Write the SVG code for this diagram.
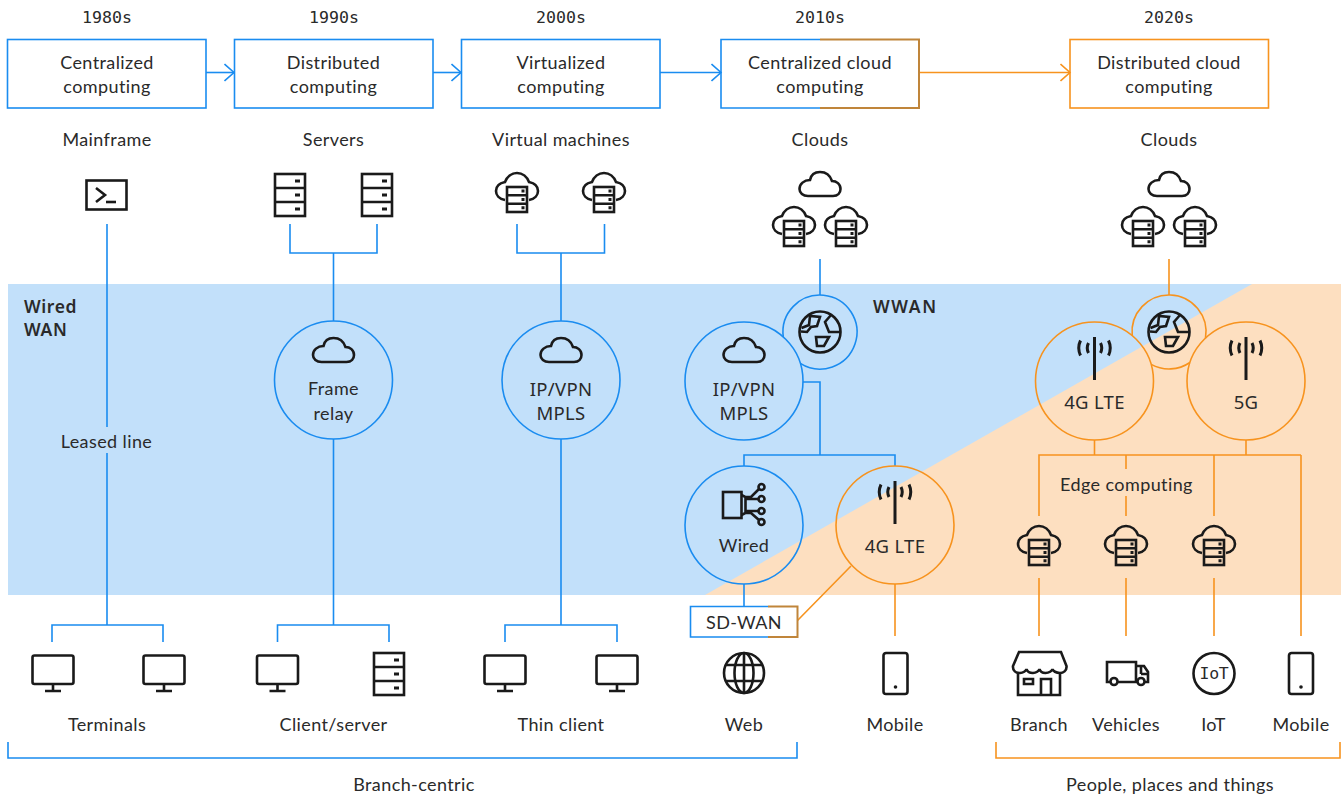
<svg xmlns="http://www.w3.org/2000/svg" width="1344" height="796" viewBox="0 0 1344 796">
<style>
text{font-family:"Lato","Noto Sans",sans-serif;font-size:18px;letter-spacing:.4px;fill:#2a2a2a;text-anchor:middle;dominant-baseline:central}
.y{font-family:"DejaVu Sans Mono",monospace;font-size:16.6px;letter-spacing:0}
.n{font-family:"Noto Sans",sans-serif;font-size:18.5px;letter-spacing:.3px}
.b{font-family:"Noto Sans",sans-serif;font-size:17.5px;font-weight:600;text-anchor:start;letter-spacing:.6px}
.w{letter-spacing:1.6px}
.bl,.or,.br{fill:none;stroke-width:1.6}
.bl{stroke:#1a8cf0}.or{stroke:#f7931e}.br{stroke:#c0853a;stroke-width:2}
.i{fill:none;stroke:#1a1a1a;stroke-width:2.6;stroke-linejoin:miter}
.a{fill:none;stroke:#1a1a1a;stroke-width:3}
.k{fill:#1a1a1a;stroke:none}
</style>
<defs>
<marker id="ab" markerWidth="12" markerHeight="20" refX="10.5" refY="10" orient="auto" markerUnits="userSpaceOnUse"><path d="M1 1.500L10.5 10L1 18.500" fill="none" stroke="#1a8cf0" stroke-width="1.6"/></marker>
<marker id="ao" markerWidth="12" markerHeight="20" refX="10.5" refY="10" orient="auto" markerUnits="userSpaceOnUse"><path d="M1 1.500L10.5 10L1 18.500" fill="none" stroke="#f7931e" stroke-width="1.6"/></marker>
<g id="server"><rect class="i" x="-15" y="0" width="30" height="42"/><path class="i" d="M-15 14H15M-15 28H15"/><path class="k" d="M5 5.500H10V8.500H5ZM5 19.500H10V22.500H5ZM5 33.500H10V36.500H5Z"/></g>
<path id="cloud" class="i" d="M-12 24H13C18 24 20.500 20.500 20.500 17C20.500 12 16.500 9 12 9C10 3 5.500 0 0 0C-5.500 0-9 3-10 8C-16 8-20.500 12-20.500 17C-20.500 21-17 24-12 24Z"/>
<g id="cs"><path class="i" d="M-12 27C-18 26-21 22-21 18C-21 13-17 10-12 9C-10 4-5.500 0 0 0C5.500 0 10 4 12 9C17 10 21 13 21 18C21 22 18 26 12 27"/><rect class="i" x="-10" y="14" width="20" height="25"/><path class="i" d="M-10 22.300H10M-10 30.700H10"/><path class="k" d="M4.500 16.500H7.500V19.500H4.500ZM4.500 25H7.500V28H4.500ZM4.500 33.300H7.500V36.300H4.500Z"/></g>
<g id="mon"><rect class="i" x="-20.500" y="0" width="41" height="28.500" rx="2"/><path class="i" d="M0 28.500V35.500M-8 35.500H8"/></g>
<g id="ant"><rect class="k" x="-1.500" y="0" width="3" height="43"/><path class="a" d="M-6 6Q-8.500 11-6 16M6 6Q8.500 11 6 16M-14 3.500Q-17.500 11-14 18.500M14 3.500Q17.500 11 14 18.500"/></g>
<g id="earth"><circle class="i" r="20.500"/><path class="i" d="M-18.500-4L-11-7L-10-16L0-15L-3-6L-9-5L-13 0L-19-.5M11-17L5-10L9 0H20.500M-4 5H9L4 14H-3Z"/></g>
<g id="phone"><rect class="i" x="-12" y="0" width="24" height="41" rx="2.500"/><circle class="k" cx="0" cy="34" r="1.800"/></g>
</defs>

<g id="bands">
<rect x="8" y="284" width="1333" height="311" fill="#c2e0fa"/>
<polygon points="1252,284 1341,284 1341,595 705,595" fill="#fddfc0"/>
</g>

<g id="connectors">
<path class="bl" marker-end="url(#ab)" d="M206 72.500H234"/>
<path class="bl" marker-end="url(#ab)" d="M433 72.500H461"/>
<path class="bl" marker-end="url(#ab)" d="M660 72.500H721"/>
<path class="or" marker-end="url(#ao)" d="M919 72.500H1070"/>
<path class="bl" d="M107 224V427M107 453V625M52 642V625H163V642"/>
<path class="bl" d="M290 224V253H377V224M333.500 253V321M333.500 439V625M277.500 642V625H389V642"/>
<path class="bl" d="M517 224V253H604.500V224M561 253V321M561 439V625M505 642V625H617V642"/>
<path class="bl" d="M820 259V295M803 382H820V455M744 466V455H895V466M744 584V606"/>
<path class="or" d="M797 621L851 566M895 584V636"/>
<path class="or" d="M1169 259V295M1094.500 440V455M1246 440V455M1039 516V455H1301M1301 455V636M1126 455V469M1126 496V516M1214 455V516M1039 578V636M1126 578V636M1214 578V636"/>
<path class="bl" d="M8 742V758H797V742"/>
<path class="or" d="M996 742V758H1340V742"/>
</g>

<text class="y" x="107" y="17">1980s</text>
<text class="y" x="334" y="17">1990s</text>
<text class="y" x="561" y="17">2000s</text>
<text class="y" x="820" y="17">2010s</text>
<text class="y" x="1169" y="17">2020s</text>

<g id="box-centralized"><rect class="bl" x="7.500" y="39.500" width="198.500" height="68.500"/><text x="107" y="61.500">Centralized</text><text x="107" y="86">computing</text></g>
<g id="box-distributed"><rect class="bl" x="234.500" y="39.500" width="198.500" height="68.500"/><text x="333.500" y="61.500">Distributed</text><text x="333.500" y="86">computing</text></g>
<g id="box-virtualized"><rect class="bl" x="461.500" y="39.500" width="198.500" height="68.500"/><text x="561" y="61.500">Virtualized</text><text x="561" y="86">computing</text></g>
<g id="box-centralized-cloud"><path class="bl" d="M820 39.500H721V108H820"/><path class="br" d="M820 39.500H919V108H820"/><text x="820" y="61.500">Centralized cloud</text><text x="820" y="86">computing</text></g>
<g id="box-distributed-cloud"><rect class="or" x="1070" y="39.500" width="198.500" height="68.500"/><text x="1169" y="61.500">Distributed cloud</text><text x="1169" y="86">computing</text></g>

<g id="mainframe"><text x="107" y="139">Mainframe</text><rect class="i" x="86.500" y="180.500" width="40" height="29"/><path class="i" stroke-width="3" d="M96 188L105 195L96 202"/><path class="i" d="M106 202H116"/></g>
<g id="servers"><text x="333.500" y="139">Servers</text><use href="#server" x="290" y="174"/><use href="#server" x="377" y="174"/></g>
<g id="virtual-machines"><text x="561" y="139">Virtual machines</text><use href="#cs" x="517" y="173"/><use href="#cs" x="604" y="173"/></g>
<g id="clouds-2010"><text x="820" y="139">Clouds</text><use href="#cloud" x="820" y="172"/><use href="#cs" x="794" y="207"/><use href="#cs" x="846" y="207"/></g>
<g id="clouds-2020"><text x="1169" y="139">Clouds</text><use href="#cloud" x="1169" y="172"/><use href="#cs" x="1143" y="207"/><use href="#cs" x="1195" y="207"/></g>

<text class="b" x="24" y="306">Wired</text>
<text class="b" x="24" y="329">WAN</text>
<text class="b w" x="873" y="306">WWAN</text>
<text id="leased-line" x="106.500" y="441">Leased line</text>

<g id="frame-relay"><circle class="bl" cx="333.500" cy="380" r="59"/><use href="#cloud" x="333.500" y="338"/><text x="333.500" y="388">Frame</text><text x="333.500" y="412.500">relay</text></g>
<g id="ipvpn-1"><circle class="bl" cx="561" cy="380" r="59"/><use href="#cloud" x="561" y="338"/><text class="n" x="561" y="388">IP/VPN</text><text class="n" x="561" y="412.500">MPLS</text></g>
<g id="globe-2010"><path class="bl" d="M783.300 337A37 37 0 1 1 800.300 363.400"/><use href="#earth" x="820" y="332"/></g>
<g id="ipvpn-2"><circle class="bl" cx="744" cy="381" r="59"/><use href="#cloud" x="744" y="338"/><text class="n" x="744" y="388">IP/VPN</text><text class="n" x="744" y="412.500">MPLS</text></g>
<g id="wired"><circle class="bl" cx="744" cy="525" r="59"/><rect class="i" x="723" y="492" width="18.500" height="26"/><path class="i" d="M741.500 495L745.500 497V513L741.500 515M745.500 497H751L759 489M745.500 499H759M745.500 511H759M745.500 513H751L759 520"/><g class="i"><circle cx="761.500" cy="487" r="3"/><circle cx="761.500" cy="499" r="3"/><circle cx="761.500" cy="511" r="3"/><circle cx="761.500" cy="522" r="3"/></g><text x="744" y="545">Wired</text></g>
<g id="lte-2010"><circle class="or" cx="895" cy="525" r="59"/><use href="#ant" x="895" y="481"/><text class="n" x="895" y="545">4G LTE</text></g>
<g id="globe-2020"><path class="or" d="M1132.200 335.600A37 37 0 1 1 1205.500 338.100M1151.200 364.400A37 37 0 0 0 1189.900 362.500"/><use href="#earth" x="1169" y="332"/></g>
<g id="lte-2020"><circle class="or" cx="1094.500" cy="381" r="59"/><use href="#ant" x="1094.500" y="337"/><text class="n" x="1094.500" y="401">4G LTE</text></g>
<g id="g5"><circle class="or" cx="1246" cy="381" r="59"/><use href="#ant" x="1246" y="337"/><text class="n" x="1246" y="401">5G</text></g>

<g id="sd-wan"><rect x="690.500" y="606.500" width="107" height="30.500" fill="#fff"/><path class="bl" d="M768 606.500H690.500V637H768"/><path class="br" d="M768 606.500H797.500V637H768"/><text x="744" y="621.500">SD-WAN</text></g>

<text id="edge-computing" x="1126.500" y="483.500">Edge computing</text>
<g id="edge-1"><use href="#cs" x="1039" y="526"/></g>
<g id="edge-2"><use href="#cs" x="1126" y="526"/></g>
<g id="edge-3"><use href="#cs" x="1214" y="526"/></g>

<g id="terminals"><use href="#mon" x="53" y="655.500"/><use href="#mon" x="164" y="655.500"/><text x="107" y="724">Terminals</text></g>
<g id="client-server"><use href="#mon" x="277.500" y="655.500"/><use href="#server" x="389" y="653"/><text x="333.500" y="724">Client/server</text></g>
<g id="thin-client"><use href="#mon" x="505" y="655.500"/><use href="#mon" x="617" y="655.500"/><text x="561" y="724">Thin client</text></g>
<g id="web"><circle class="i" cx="744" cy="673" r="20"/><ellipse class="i" cx="744" cy="673" rx="9.500" ry="20"/><path class="i" d="M744 653V693M726 665H762M726 681H762"/><text x="744" y="724">Web</text></g>
<g id="mobile-2010"><use href="#phone" x="895.500" y="653"/><text x="895" y="724">Mobile</text></g>
<g id="branch"><path class="i" d="M1019 652H1061L1066.500 666C1067 671 1063 673 1060 673C1056 673 1053 671 1052.500 669C1052 671 1049 673 1045.500 673C1042 673 1040 671 1039.500 669C1039 671 1036 673 1033 673C1029 673 1027 671 1026.500 669C1026 671 1023 673 1020 673C1016 673 1012.500 671 1013 666Z"/><path class="i" d="M1018 673V695H1060V673M1041 695V679H1051V695M1024 679H1033V684H1024Z"/><text x="1039" y="724">Branch</text></g>
<g id="vehicles"><path class="i" d="M1110.500 682H1107V662H1136V682H1117.500M1136 666H1144L1148 672V682H1144.500M1136 682H1137M1141 674H1148M1141 666V674"/><circle class="i" cx="1114" cy="681.500" r="3.500"/><circle class="i" cx="1141" cy="681.500" r="3.500"/><text x="1126" y="724">Vehicles</text></g>
<g id="iot"><circle class="i" cx="1214" cy="673.500" r="20.500"/><text x="1214" y="673.500" style="font-family:'DejaVu Sans Mono',monospace;font-size:16.5px;letter-spacing:-.3px">IoT</text><text x="1213.500" y="724">IoT</text></g>
<g id="mobile-2020"><use href="#phone" x="1301" y="653"/><text x="1301" y="724">Mobile</text></g>

<text id="branch-centric" x="414" y="783.500">Branch-centric</text>
<text id="people" x="1170" y="783.500">People, places and things</text>
</svg>
